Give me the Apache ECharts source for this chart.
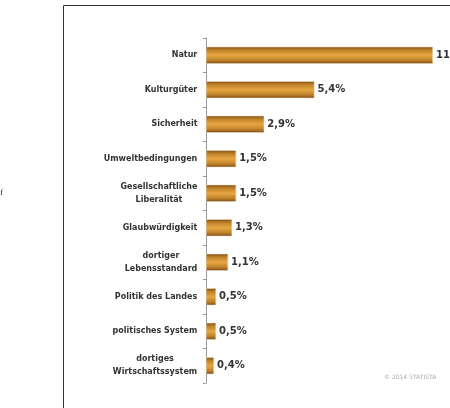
<!DOCTYPE html>
<html><head><meta charset="utf-8">
<script src="https://cdn.jsdelivr.net/npm/echarts@6/dist/echarts.min.js"></script>
<style>html,body{margin:0;padding:0;background:#fff}#c{width:450px;height:408px}</style>
</head><body><div id="c"></div>
<script>
const categories = ["Natur","Kulturgüter","Sicherheit","Umweltbedingungen","Gesellschaftliche\nLiberalität","Glaubwürdigkeit","dortiger\nLebensstandard","Politik des Landes","politisches System","dortiges\nWirtschaftssystem"];
const values = [11.3, 5.4, 2.9, 1.5, 1.5, 1.3, 1.1, 0.5, 0.5, 0.4];
const labelFont = 'bold 8px "DejaVu Sans"';
const ctx = document.createElement('canvas').getContext('2d');
ctx.font = labelFont;
const rich = {};
categories.forEach((c, i) => {
  const w = Math.max(...c.split('\n').map(s => ctx.measureText(s).width));
  rich['r' + i] = {width: Math.ceil(w) + 1, align: 'center', fontFamily: 'DejaVu Sans', fontWeight: 'bold', fontSize: 8, color: '#333', lineHeight: 13};
});
const chart = echarts.init(document.getElementById('c'));
chart.setOption({
  animation:false,
  backgroundColor:'#fff',
  grid:{left:206, top:38, bottom:25, right:3, containLabel:false},
  xAxis:{type:'value', min:0, max:12, show:false},
  yAxis:{type:'category', data:categories, inverse:true,
    axisLine:{lineStyle:{color:'#999', width:1}},
    axisTick:{show:true, length:3, lineStyle:{color:'#999'}},
    axisLabel:{fontFamily:'DejaVu Sans', fontWeight:'bold', fontSize:8, color:'#333', margin:8, lineHeight:13, align:'right',
      formatter:(v, i) => v.split('\n').map(s => '{r' + i + '|' + s + '}').join('\n'), rich: rich}
  },
  series:[{type:'bar', data:values, barWidth:17,
    itemStyle:{color:new echarts.graphic.LinearGradient(0,0,0,1,[
      {offset:0,color:'#7d5018'},{offset:0.2,color:'#c08229'},{offset:0.5,color:'#e6a642'},{offset:0.8,color:'#c08229'},{offset:1,color:'#74491a'}]),
      borderColor:'#f0e0c0', borderWidth:0.5},
    label:{show:true, position:'right', distance:3, fontFamily:'DejaVu Sans', fontWeight:'bold', fontSize:10, color:'#333',
      formatter:p=>String(p.value).replace('.',',')+'%'}
  }],
  graphic:[
    {type:'rect', shape:{x:63.5, y:5.5, width:420, height:420}, style:{fill:'none', stroke:'#333', lineWidth:1}, z:-1},
    {type:'text', left:384, top:374, style:{text:'© 2014 STATISTA', font:'6px DejaVu Sans', fill:'#aaa'}},
    {type:'text', left:0, top:188, style:{text:'f', font:'9px Liberation Serif', fill:'#333'}}
  ]
});
</script></body></html>
